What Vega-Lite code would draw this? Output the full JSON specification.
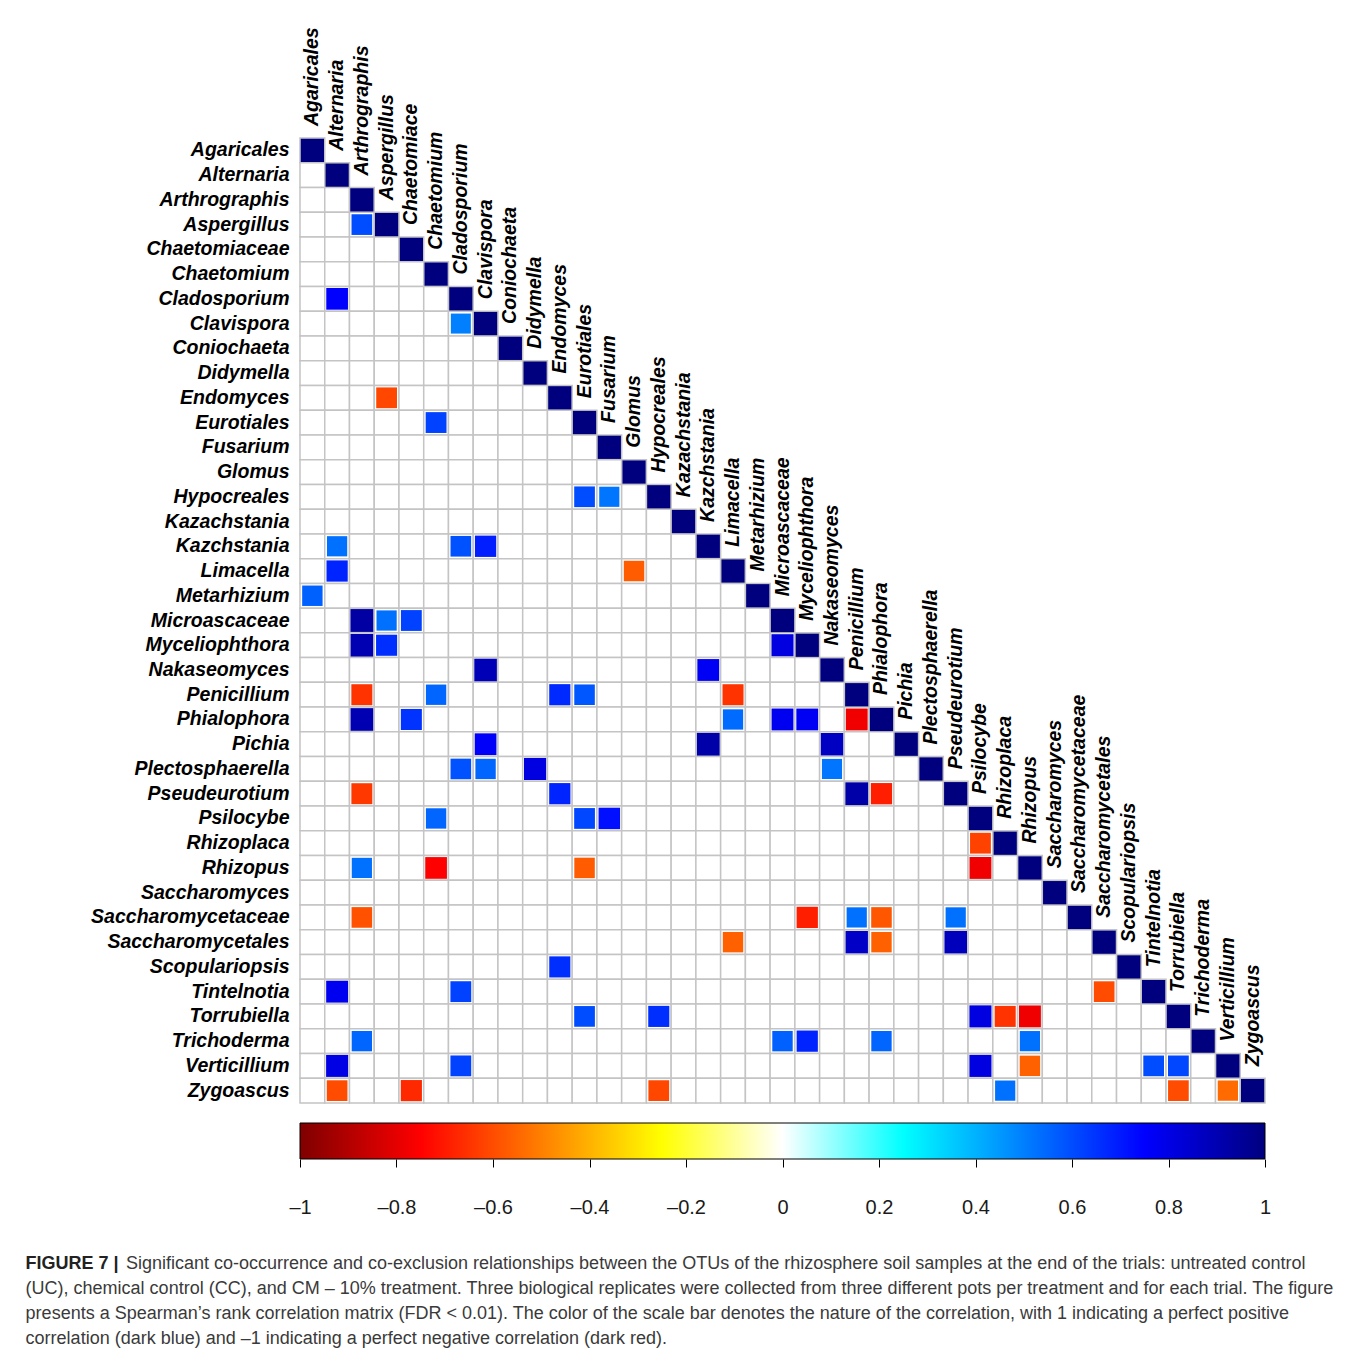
{
"$schema":"https://vega.github.io/schema/vega-lite/v6.json",
"background":"white",
"autosize":{"type":"pad"},
"padding":{"left":25,"top":27,"right":10,"bottom":8},
"config":{"view":{"stroke":null},"font":"Liberation Sans"},
"title":{"text":"FIGURE 7 |","subtitle":["(UC), chemical control (CC), and CM – 10% treatment. Three biological replicates were collected from three different pots per treatment and for each trial. The figure","presents a Spearman’s rank correlation matrix (FDR < 0.01). The color of the scale bar denotes the nature of the correlation, with 1 indicating a perfect positive","correlation (dark blue) and –1 indicating a perfect negative correlation (dark red)."],"orient":"bottom","anchor":"start","frame":"bounds","offset":0,"dy":-18,"dx":-65,"font":"Liberation Sans","fontSize":18,"fontWeight":"bold","color":"#222222","subtitleFont":"Liberation Sans","subtitleFontSize":18,"subtitleFontWeight":"normal","subtitleColor":"#3a3a3a","subtitleLineHeight":25,"subtitlePadding":7},
"datasets":{
"names":[{"i":0,"n":"Agaricales"},{"i":1,"n":"Alternaria"},{"i":2,"n":"Arthrographis"},{"i":3,"n":"Aspergillus"},{"i":4,"n":"Chaetomiace"},{"i":5,"n":"Chaetomium"},{"i":6,"n":"Cladosporium"},{"i":7,"n":"Clavispora"},{"i":8,"n":"Coniochaeta"},{"i":9,"n":"Didymella"},{"i":10,"n":"Endomyces"},{"i":11,"n":"Eurotiales"},{"i":12,"n":"Fusarium"},{"i":13,"n":"Glomus"},{"i":14,"n":"Hypocreales"},{"i":15,"n":"Kazachstania"},{"i":16,"n":"Kazchstania"},{"i":17,"n":"Limacella"},{"i":18,"n":"Metarhizium"},{"i":19,"n":"Microascaceae"},{"i":20,"n":"Myceliophthora"},{"i":21,"n":"Nakaseomyces"},{"i":22,"n":"Penicillium"},{"i":23,"n":"Phialophora"},{"i":24,"n":"Pichia"},{"i":25,"n":"Plectosphaerella"},{"i":26,"n":"Pseudeurotium"},{"i":27,"n":"Psilocybe"},{"i":28,"n":"Rhizoplaca"},{"i":29,"n":"Rhizopus"},{"i":30,"n":"Saccharomyces"},{"i":31,"n":"Saccharomycetaceae"},{"i":32,"n":"Saccharomycetales"},{"i":33,"n":"Scopulariopsis"},{"i":34,"n":"Tintelnotia"},{"i":35,"n":"Torrubiella"},{"i":36,"n":"Trichoderma"},{"i":37,"n":"Verticillium"},{"i":38,"n":"Zygoascus"}],
"cells":[
{"r":0,"c":0,"v":1},
{"r":1,"c":0},{"r":1,"c":1,"v":1},
{"r":2,"c":0},{"r":2,"c":1},{"r":2,"c":2,"v":1},
{"r":3,"c":0},{"r":3,"c":1},{"r":3,"c":2,"v":0.6},{"r":3,"c":3,"v":1},
{"r":4,"c":0},{"r":4,"c":1},{"r":4,"c":2},{"r":4,"c":3},{"r":4,"c":4,"v":1},
{"r":5,"c":0},{"r":5,"c":1},{"r":5,"c":2},{"r":5,"c":3},{"r":5,"c":4},{"r":5,"c":5,"v":1},
{"r":6,"c":0},{"r":6,"c":1,"v":0.75},{"r":6,"c":2},{"r":6,"c":3},{"r":6,"c":4},{"r":6,"c":5},{"r":6,"c":6,"v":1},
{"r":7,"c":0},{"r":7,"c":1},{"r":7,"c":2},{"r":7,"c":3},{"r":7,"c":4},{"r":7,"c":5},{"r":7,"c":6,"v":0.5},{"r":7,"c":7,"v":1},
{"r":8,"c":0},{"r":8,"c":1},{"r":8,"c":2},{"r":8,"c":3},{"r":8,"c":4},{"r":8,"c":5},{"r":8,"c":6},{"r":8,"c":7},{"r":8,"c":8,"v":1},
{"r":9,"c":0},{"r":9,"c":1},{"r":9,"c":2},{"r":9,"c":3},{"r":9,"c":4},{"r":9,"c":5},{"r":9,"c":6},{"r":9,"c":7},{"r":9,"c":8},{"r":9,"c":9,"v":1},
{"r":10,"c":0},{"r":10,"c":1},{"r":10,"c":2},{"r":10,"c":3,"v":-0.61},{"r":10,"c":4},{"r":10,"c":5},{"r":10,"c":6},{"r":10,"c":7},{"r":10,"c":8},{"r":10,"c":9},{"r":10,"c":10,"v":1},
{"r":11,"c":0},{"r":11,"c":1},{"r":11,"c":2},{"r":11,"c":3},{"r":11,"c":4},{"r":11,"c":5,"v":0.62},{"r":11,"c":6},{"r":11,"c":7},{"r":11,"c":8},{"r":11,"c":9},{"r":11,"c":10},{"r":11,"c":11,"v":1},
{"r":12,"c":0},{"r":12,"c":1},{"r":12,"c":2},{"r":12,"c":3},{"r":12,"c":4},{"r":12,"c":5},{"r":12,"c":6},{"r":12,"c":7},{"r":12,"c":8},{"r":12,"c":9},{"r":12,"c":10},{"r":12,"c":11},{"r":12,"c":12,"v":1},
{"r":13,"c":0},{"r":13,"c":1},{"r":13,"c":2},{"r":13,"c":3},{"r":13,"c":4},{"r":13,"c":5},{"r":13,"c":6},{"r":13,"c":7},{"r":13,"c":8},{"r":13,"c":9},{"r":13,"c":10},{"r":13,"c":11},{"r":13,"c":12},{"r":13,"c":13,"v":1},
{"r":14,"c":0},{"r":14,"c":1},{"r":14,"c":2},{"r":14,"c":3},{"r":14,"c":4},{"r":14,"c":5},{"r":14,"c":6},{"r":14,"c":7},{"r":14,"c":8},{"r":14,"c":9},{"r":14,"c":10},{"r":14,"c":11,"v":0.6},{"r":14,"c":12,"v":0.52},{"r":14,"c":13},{"r":14,"c":14,"v":1},
{"r":15,"c":0},{"r":15,"c":1},{"r":15,"c":2},{"r":15,"c":3},{"r":15,"c":4},{"r":15,"c":5},{"r":15,"c":6},{"r":15,"c":7},{"r":15,"c":8},{"r":15,"c":9},{"r":15,"c":10},{"r":15,"c":11},{"r":15,"c":12},{"r":15,"c":13},{"r":15,"c":14},{"r":15,"c":15,"v":1},
{"r":16,"c":0},{"r":16,"c":1,"v":0.53},{"r":16,"c":2},{"r":16,"c":3},{"r":16,"c":4},{"r":16,"c":5},{"r":16,"c":6,"v":0.59},{"r":16,"c":7,"v":0.69},{"r":16,"c":8},{"r":16,"c":9},{"r":16,"c":10},{"r":16,"c":11},{"r":16,"c":12},{"r":16,"c":13},{"r":16,"c":14},{"r":16,"c":15},{"r":16,"c":16,"v":1},
{"r":17,"c":0},{"r":17,"c":1,"v":0.68},{"r":17,"c":2},{"r":17,"c":3},{"r":17,"c":4},{"r":17,"c":5},{"r":17,"c":6},{"r":17,"c":7},{"r":17,"c":8},{"r":17,"c":9},{"r":17,"c":10},{"r":17,"c":11},{"r":17,"c":12},{"r":17,"c":13,"v":-0.57},{"r":17,"c":14},{"r":17,"c":15},{"r":17,"c":16},{"r":17,"c":17,"v":1},
{"r":18,"c":0,"v":0.56},{"r":18,"c":1},{"r":18,"c":2},{"r":18,"c":3},{"r":18,"c":4},{"r":18,"c":5},{"r":18,"c":6},{"r":18,"c":7},{"r":18,"c":8},{"r":18,"c":9},{"r":18,"c":10},{"r":18,"c":11},{"r":18,"c":12},{"r":18,"c":13},{"r":18,"c":14},{"r":18,"c":15},{"r":18,"c":16},{"r":18,"c":17},{"r":18,"c":18,"v":1},
{"r":19,"c":0},{"r":19,"c":1},{"r":19,"c":2,"v":0.93},{"r":19,"c":3,"v":0.53},{"r":19,"c":4,"v":0.62},{"r":19,"c":5},{"r":19,"c":6},{"r":19,"c":7},{"r":19,"c":8},{"r":19,"c":9},{"r":19,"c":10},{"r":19,"c":11},{"r":19,"c":12},{"r":19,"c":13},{"r":19,"c":14},{"r":19,"c":15},{"r":19,"c":16},{"r":19,"c":17},{"r":19,"c":18},{"r":19,"c":19,"v":1},
{"r":20,"c":0},{"r":20,"c":1},{"r":20,"c":2,"v":0.9},{"r":20,"c":3,"v":0.66},{"r":20,"c":4},{"r":20,"c":5},{"r":20,"c":6},{"r":20,"c":7},{"r":20,"c":8},{"r":20,"c":9},{"r":20,"c":10},{"r":20,"c":11},{"r":20,"c":12},{"r":20,"c":13},{"r":20,"c":14},{"r":20,"c":15},{"r":20,"c":16},{"r":20,"c":17},{"r":20,"c":18},{"r":20,"c":19,"v":0.81},{"r":20,"c":20,"v":1},
{"r":21,"c":0},{"r":21,"c":1},{"r":21,"c":2},{"r":21,"c":3},{"r":21,"c":4},{"r":21,"c":5},{"r":21,"c":6},{"r":21,"c":7,"v":0.89},{"r":21,"c":8},{"r":21,"c":9},{"r":21,"c":10},{"r":21,"c":11},{"r":21,"c":12},{"r":21,"c":13},{"r":21,"c":14},{"r":21,"c":15},{"r":21,"c":16,"v":0.77},{"r":21,"c":17},{"r":21,"c":18},{"r":21,"c":19},{"r":21,"c":20},{"r":21,"c":21,"v":1},
{"r":22,"c":0},{"r":22,"c":1},{"r":22,"c":2,"v":-0.65},{"r":22,"c":3},{"r":22,"c":4},{"r":22,"c":5,"v":0.55},{"r":22,"c":6},{"r":22,"c":7},{"r":22,"c":8},{"r":22,"c":9},{"r":22,"c":10,"v":0.67},{"r":22,"c":11,"v":0.58},{"r":22,"c":12},{"r":22,"c":13},{"r":22,"c":14},{"r":22,"c":15},{"r":22,"c":16},{"r":22,"c":17,"v":-0.65},{"r":22,"c":18},{"r":22,"c":19},{"r":22,"c":20},{"r":22,"c":21},{"r":22,"c":22,"v":1},
{"r":23,"c":0},{"r":23,"c":1},{"r":23,"c":2,"v":0.9},{"r":23,"c":3},{"r":23,"c":4,"v":0.65},{"r":23,"c":5},{"r":23,"c":6},{"r":23,"c":7},{"r":23,"c":8},{"r":23,"c":9},{"r":23,"c":10},{"r":23,"c":11},{"r":23,"c":12},{"r":23,"c":13},{"r":23,"c":14},{"r":23,"c":15},{"r":23,"c":16},{"r":23,"c":17,"v":0.54},{"r":23,"c":18},{"r":23,"c":19,"v":0.78},{"r":23,"c":20,"v":0.77},{"r":23,"c":21},{"r":23,"c":22,"v":-0.78},{"r":23,"c":23,"v":1},
{"r":24,"c":0},{"r":24,"c":1},{"r":24,"c":2},{"r":24,"c":3},{"r":24,"c":4},{"r":24,"c":5},{"r":24,"c":6},{"r":24,"c":7,"v":0.76},{"r":24,"c":8},{"r":24,"c":9},{"r":24,"c":10},{"r":24,"c":11},{"r":24,"c":12},{"r":24,"c":13},{"r":24,"c":14},{"r":24,"c":15},{"r":24,"c":16,"v":0.92},{"r":24,"c":17},{"r":24,"c":18},{"r":24,"c":19},{"r":24,"c":20},{"r":24,"c":21,"v":0.87},{"r":24,"c":22},{"r":24,"c":23},{"r":24,"c":24,"v":1},
{"r":25,"c":0},{"r":25,"c":1},{"r":25,"c":2},{"r":25,"c":3},{"r":25,"c":4},{"r":25,"c":5},{"r":25,"c":6,"v":0.59},{"r":25,"c":7,"v":0.55},{"r":25,"c":8},{"r":25,"c":9,"v":0.81},{"r":25,"c":10},{"r":25,"c":11},{"r":25,"c":12},{"r":25,"c":13},{"r":25,"c":14},{"r":25,"c":15},{"r":25,"c":16},{"r":25,"c":17},{"r":25,"c":18},{"r":25,"c":19},{"r":25,"c":20},{"r":25,"c":21,"v":0.52},{"r":25,"c":22},{"r":25,"c":23},{"r":25,"c":24},{"r":25,"c":25,"v":1},
{"r":26,"c":0},{"r":26,"c":1},{"r":26,"c":2,"v":-0.64},{"r":26,"c":3},{"r":26,"c":4},{"r":26,"c":5},{"r":26,"c":6},{"r":26,"c":7},{"r":26,"c":8},{"r":26,"c":9},{"r":26,"c":10,"v":0.68},{"r":26,"c":11},{"r":26,"c":12},{"r":26,"c":13},{"r":26,"c":14},{"r":26,"c":15},{"r":26,"c":16},{"r":26,"c":17},{"r":26,"c":18},{"r":26,"c":19},{"r":26,"c":20},{"r":26,"c":21},{"r":26,"c":22,"v":0.92},{"r":26,"c":23,"v":-0.69},{"r":26,"c":24},{"r":26,"c":25},{"r":26,"c":26,"v":1},
{"r":27,"c":0},{"r":27,"c":1},{"r":27,"c":2},{"r":27,"c":3},{"r":27,"c":4},{"r":27,"c":5,"v":0.55},{"r":27,"c":6},{"r":27,"c":7},{"r":27,"c":8},{"r":27,"c":9},{"r":27,"c":10},{"r":27,"c":11,"v":0.61},{"r":27,"c":12,"v":0.72},{"r":27,"c":13},{"r":27,"c":14},{"r":27,"c":15},{"r":27,"c":16},{"r":27,"c":17},{"r":27,"c":18},{"r":27,"c":19},{"r":27,"c":20},{"r":27,"c":21},{"r":27,"c":22},{"r":27,"c":23},{"r":27,"c":24},{"r":27,"c":25},{"r":27,"c":26},{"r":27,"c":27,"v":1},
{"r":28,"c":0},{"r":28,"c":1},{"r":28,"c":2},{"r":28,"c":3},{"r":28,"c":4},{"r":28,"c":5},{"r":28,"c":6},{"r":28,"c":7},{"r":28,"c":8},{"r":28,"c":9},{"r":28,"c":10},{"r":28,"c":11},{"r":28,"c":12},{"r":28,"c":13},{"r":28,"c":14},{"r":28,"c":15},{"r":28,"c":16},{"r":28,"c":17},{"r":28,"c":18},{"r":28,"c":19},{"r":28,"c":20},{"r":28,"c":21},{"r":28,"c":22},{"r":28,"c":23},{"r":28,"c":24},{"r":28,"c":25},{"r":28,"c":26},{"r":28,"c":27,"v":-0.62},{"r":28,"c":28,"v":1},
{"r":29,"c":0},{"r":29,"c":1},{"r":29,"c":2,"v":0.53},{"r":29,"c":3},{"r":29,"c":4},{"r":29,"c":5,"v":-0.75},{"r":29,"c":6},{"r":29,"c":7},{"r":29,"c":8},{"r":29,"c":9},{"r":29,"c":10},{"r":29,"c":11,"v":-0.57},{"r":29,"c":12},{"r":29,"c":13},{"r":29,"c":14},{"r":29,"c":15},{"r":29,"c":16},{"r":29,"c":17},{"r":29,"c":18},{"r":29,"c":19},{"r":29,"c":20},{"r":29,"c":21},{"r":29,"c":22},{"r":29,"c":23},{"r":29,"c":24},{"r":29,"c":25},{"r":29,"c":26},{"r":29,"c":27,"v":-0.78},{"r":29,"c":28},{"r":29,"c":29,"v":1},
{"r":30,"c":0},{"r":30,"c":1},{"r":30,"c":2},{"r":30,"c":3},{"r":30,"c":4},{"r":30,"c":5},{"r":30,"c":6},{"r":30,"c":7},{"r":30,"c":8},{"r":30,"c":9},{"r":30,"c":10},{"r":30,"c":11},{"r":30,"c":12},{"r":30,"c":13},{"r":30,"c":14},{"r":30,"c":15},{"r":30,"c":16},{"r":30,"c":17},{"r":30,"c":18},{"r":30,"c":19},{"r":30,"c":20},{"r":30,"c":21},{"r":30,"c":22},{"r":30,"c":23},{"r":30,"c":24},{"r":30,"c":25},{"r":30,"c":26},{"r":30,"c":27},{"r":30,"c":28},{"r":30,"c":29},{"r":30,"c":30,"v":1},
{"r":31,"c":0},{"r":31,"c":1},{"r":31,"c":2,"v":-0.59},{"r":31,"c":3},{"r":31,"c":4},{"r":31,"c":5},{"r":31,"c":6},{"r":31,"c":7},{"r":31,"c":8},{"r":31,"c":9},{"r":31,"c":10},{"r":31,"c":11},{"r":31,"c":12},{"r":31,"c":13},{"r":31,"c":14},{"r":31,"c":15},{"r":31,"c":16},{"r":31,"c":17},{"r":31,"c":18},{"r":31,"c":19},{"r":31,"c":20,"v":-0.69},{"r":31,"c":21},{"r":31,"c":22,"v":0.53},{"r":31,"c":23,"v":-0.58},{"r":31,"c":24},{"r":31,"c":25},{"r":31,"c":26,"v":0.53},{"r":31,"c":27},{"r":31,"c":28},{"r":31,"c":29},{"r":31,"c":30},{"r":31,"c":31,"v":1},
{"r":32,"c":0},{"r":32,"c":1},{"r":32,"c":2},{"r":32,"c":3},{"r":32,"c":4},{"r":32,"c":5},{"r":32,"c":6},{"r":32,"c":7},{"r":32,"c":8},{"r":32,"c":9},{"r":32,"c":10},{"r":32,"c":11},{"r":32,"c":12},{"r":32,"c":13},{"r":32,"c":14},{"r":32,"c":15},{"r":32,"c":16},{"r":32,"c":17,"v":-0.56},{"r":32,"c":18},{"r":32,"c":19},{"r":32,"c":20},{"r":32,"c":21},{"r":32,"c":22,"v":0.86},{"r":32,"c":23,"v":-0.56},{"r":32,"c":24},{"r":32,"c":25},{"r":32,"c":26,"v":0.88},{"r":32,"c":27},{"r":32,"c":28},{"r":32,"c":29},{"r":32,"c":30},{"r":32,"c":31},{"r":32,"c":32,"v":1},
{"r":33,"c":0},{"r":33,"c":1},{"r":33,"c":2},{"r":33,"c":3},{"r":33,"c":4},{"r":33,"c":5},{"r":33,"c":6},{"r":33,"c":7},{"r":33,"c":8},{"r":33,"c":9},{"r":33,"c":10,"v":0.66},{"r":33,"c":11},{"r":33,"c":12},{"r":33,"c":13},{"r":33,"c":14},{"r":33,"c":15},{"r":33,"c":16},{"r":33,"c":17},{"r":33,"c":18},{"r":33,"c":19},{"r":33,"c":20},{"r":33,"c":21},{"r":33,"c":22},{"r":33,"c":23},{"r":33,"c":24},{"r":33,"c":25},{"r":33,"c":26},{"r":33,"c":27},{"r":33,"c":28},{"r":33,"c":29},{"r":33,"c":30},{"r":33,"c":31},{"r":33,"c":32},{"r":33,"c":33,"v":1},
{"r":34,"c":0},{"r":34,"c":1,"v":0.78},{"r":34,"c":2},{"r":34,"c":3},{"r":34,"c":4},{"r":34,"c":5},{"r":34,"c":6,"v":0.62},{"r":34,"c":7},{"r":34,"c":8},{"r":34,"c":9},{"r":34,"c":10},{"r":34,"c":11},{"r":34,"c":12},{"r":34,"c":13},{"r":34,"c":14},{"r":34,"c":15},{"r":34,"c":16},{"r":34,"c":17},{"r":34,"c":18},{"r":34,"c":19},{"r":34,"c":20},{"r":34,"c":21},{"r":34,"c":22},{"r":34,"c":23},{"r":34,"c":24},{"r":34,"c":25},{"r":34,"c":26},{"r":34,"c":27},{"r":34,"c":28},{"r":34,"c":29},{"r":34,"c":30},{"r":34,"c":31},{"r":34,"c":32,"v":-0.6},{"r":34,"c":33},{"r":34,"c":34,"v":1},
{"r":35,"c":0},{"r":35,"c":1},{"r":35,"c":2},{"r":35,"c":3},{"r":35,"c":4},{"r":35,"c":5},{"r":35,"c":6},{"r":35,"c":7},{"r":35,"c":8},{"r":35,"c":9},{"r":35,"c":10},{"r":35,"c":11,"v":0.6},{"r":35,"c":12},{"r":35,"c":13},{"r":35,"c":14,"v":0.66},{"r":35,"c":15},{"r":35,"c":16},{"r":35,"c":17},{"r":35,"c":18},{"r":35,"c":19},{"r":35,"c":20},{"r":35,"c":21},{"r":35,"c":22},{"r":35,"c":23},{"r":35,"c":24},{"r":35,"c":25},{"r":35,"c":26},{"r":35,"c":27,"v":0.81},{"r":35,"c":28,"v":-0.65},{"r":35,"c":29,"v":-0.78},{"r":35,"c":30},{"r":35,"c":31},{"r":35,"c":32},{"r":35,"c":33},{"r":35,"c":34},{"r":35,"c":35,"v":1},
{"r":36,"c":0},{"r":36,"c":1},{"r":36,"c":2,"v":0.55},{"r":36,"c":3},{"r":36,"c":4},{"r":36,"c":5},{"r":36,"c":6},{"r":36,"c":7},{"r":36,"c":8},{"r":36,"c":9},{"r":36,"c":10},{"r":36,"c":11},{"r":36,"c":12},{"r":36,"c":13},{"r":36,"c":14},{"r":36,"c":15},{"r":36,"c":16},{"r":36,"c":17},{"r":36,"c":18},{"r":36,"c":19,"v":0.56},{"r":36,"c":20,"v":0.68},{"r":36,"c":21},{"r":36,"c":22},{"r":36,"c":23,"v":0.55},{"r":36,"c":24},{"r":36,"c":25},{"r":36,"c":26},{"r":36,"c":27},{"r":36,"c":28},{"r":36,"c":29,"v":0.53},{"r":36,"c":30},{"r":36,"c":31},{"r":36,"c":32},{"r":36,"c":33},{"r":36,"c":34},{"r":36,"c":35},{"r":36,"c":36,"v":1},
{"r":37,"c":0},{"r":37,"c":1,"v":0.8},{"r":37,"c":2},{"r":37,"c":3},{"r":37,"c":4},{"r":37,"c":5},{"r":37,"c":6,"v":0.62},{"r":37,"c":7},{"r":37,"c":8},{"r":37,"c":9},{"r":37,"c":10},{"r":37,"c":11},{"r":37,"c":12},{"r":37,"c":13},{"r":37,"c":14},{"r":37,"c":15},{"r":37,"c":16},{"r":37,"c":17},{"r":37,"c":18},{"r":37,"c":19},{"r":37,"c":20},{"r":37,"c":21},{"r":37,"c":22},{"r":37,"c":23},{"r":37,"c":24},{"r":37,"c":25},{"r":37,"c":26},{"r":37,"c":27,"v":0.81},{"r":37,"c":28},{"r":37,"c":29,"v":-0.56},{"r":37,"c":30},{"r":37,"c":31},{"r":37,"c":32},{"r":37,"c":33},{"r":37,"c":34,"v":0.6},{"r":37,"c":35,"v":0.61},{"r":37,"c":36},{"r":37,"c":37,"v":1},
{"r":38,"c":0},{"r":38,"c":1,"v":-0.6},{"r":38,"c":2},{"r":38,"c":3},{"r":38,"c":4,"v":-0.67},{"r":38,"c":5},{"r":38,"c":6},{"r":38,"c":7},{"r":38,"c":8},{"r":38,"c":9},{"r":38,"c":10},{"r":38,"c":11},{"r":38,"c":12},{"r":38,"c":13},{"r":38,"c":14,"v":-0.61},{"r":38,"c":15},{"r":38,"c":16},{"r":38,"c":17},{"r":38,"c":18},{"r":38,"c":19},{"r":38,"c":20},{"r":38,"c":21},{"r":38,"c":22},{"r":38,"c":23},{"r":38,"c":24},{"r":38,"c":25},{"r":38,"c":26},{"r":38,"c":27},{"r":38,"c":28,"v":0.53},{"r":38,"c":29},{"r":38,"c":30},{"r":38,"c":31},{"r":38,"c":32},{"r":38,"c":33},{"r":38,"c":34},{"r":38,"c":35,"v":-0.6},{"r":38,"c":36},{"r":38,"c":37,"v":-0.54},{"r":38,"c":38,"v":1}
]},
"spacing":18,
"resolve":{"scale":{"x":"independent","y":"independent"}},
"vconcat":[
{"width":965,"height":965,
"layer":[
{"data":{"name":"cells"},"mark":{"type":"rect","fill":"white","stroke":"#c4c4c4","strokeWidth":1.5},
"encoding":{
"x":{"field":"c","type":"ordinal","scale":{"domain":[0,1,2,3,4,5,6,7,8,9,10,11,12,13,14,15,16,17,18,19,20,21,22,23,24,25,26,27,28,29,30,31,32,33,34,35,36,37,38],"paddingInner":0,"paddingOuter":0},"axis":null},
"y":{"field":"r","type":"ordinal","scale":{"domain":[0,1,2,3,4,5,6,7,8,9,10,11,12,13,14,15,16,17,18,19,20,21,22,23,24,25,26,27,28,29,30,31,32,33,34,35,36,37,38],"paddingInner":0,"paddingOuter":0},
"axis":{"title":null,"domain":false,"ticks":false,"grid":false,"labelPadding":11,"labelFont":"Liberation Sans","labelFontWeight":"bold","labelFontStyle":"italic","labelFontSize":19.5,"labelColor":"black","labelLimit":0,
"labelExpr":"['Agaricales','Alternaria','Arthrographis','Aspergillus','Chaetomiaceae','Chaetomium','Cladosporium','Clavispora','Coniochaeta','Didymella','Endomyces','Eurotiales','Fusarium','Glomus','Hypocreales','Kazachstania','Kazchstania','Limacella','Metarhizium','Microascaceae','Myceliophthora','Nakaseomyces','Penicillium','Phialophora','Pichia','Plectosphaerella','Pseudeurotium','Psilocybe','Rhizoplaca','Rhizopus','Saccharomyces','Saccharomycetaceae','Saccharomycetales','Scopulariopsis','Tintelnotia','Torrubiella','Trichoderma','Verticillium','Zygoascus'][datum.value]"}}
}},
{"data":{"name":"cells"},"transform":[{"filter":"isValid(datum.v)"}],
"mark":{"type":"square","opacity":1,"strokeWidth":0},
"encoding":{
"x":{"field":"c","type":"ordinal"},
"y":{"field":"r","type":"ordinal"},
"color":{"field":"v","type":"quantitative","legend":null,"scale":{"type":"linear","domain":[-1,-0.75,-0.5,-0.25,0,0.25,0.5,0.75,1],"range":["#7F0000","#FF0000","#FF7F00","#FFFF00","#FFFFFF","#00FFFF","#007FFF","#0000FF","#00007F"],"interpolate":"rgb"}},
"size":{"field":"v","type":"quantitative","legend":null,"scale":{"type":"linear","domain":[-1,-0.75,-0.5,0,0.5,0.75,1],"range":[543,471,400,0,400,471,543]}}
}},
{"data":{"name":"names"},
"mark":{"type":"text","angle":270,"align":"left","baseline":"middle","dx":12,"font":"Liberation Sans","fontWeight":"bold","fontStyle":"italic","fontSize":19.5,"color":"black"},
"encoding":{
"x":{"field":"i","type":"ordinal"},
"y":{"field":"i","type":"ordinal","bandPosition":0},
"text":{"field":"n"}
}}
]},
{"width":965,"height":36,
"title":{"text":"Significant co-occurrence and co-exclusion relationships between the OTUs of the rhizosphere soil samples at the end of the trials: untreated control","orient":"bottom","anchor":"start","frame":"bounds","offset":38,"dx":-163,"font":"Liberation Sans","fontSize":18,"fontWeight":"normal","color":"#3a3a3a"},
"data":{"values":[{"lo":-1,"hi":1}]},
"mark":{"type":"rect","stroke":"black","strokeWidth":1,"fill":{"gradient":"linear","x1":0,"x2":1,"y1":0,"y2":0,"stops":[{"offset":0,"color":"#7F0000"},{"offset":0.125,"color":"#FF0000"},{"offset":0.25,"color":"#FF7F00"},{"offset":0.375,"color":"#FFFF00"},{"offset":0.5,"color":"#FFFFFF"},{"offset":0.625,"color":"#00FFFF"},{"offset":0.75,"color":"#007FFF"},{"offset":0.875,"color":"#0000FF"},{"offset":1,"color":"#00007F"}]}},
"encoding":{
"x":{"field":"lo","type":"quantitative","scale":{"domain":[-1,1],"nice":false,"zero":false},
"axis":{"values":[-1,-0.8,-0.6,-0.4,-0.2,0,0.2,0.4,0.6,0.8,1],"title":null,"domain":false,"grid":false,"tickSize":8,"tickColor":"black","tickWidth":1,"labelFontSize":20,"labelFont":"Liberation Sans","labelColor":"#1a1a1a","labelPadding":30,"labelFlush":false,"labelOverlap":false,
"labelExpr":"datum.value < 0 ? '–' + format(-datum.value, '~g') : format(datum.value, '~g')"}},
"x2":{"field":"hi"}
}}
]
}
